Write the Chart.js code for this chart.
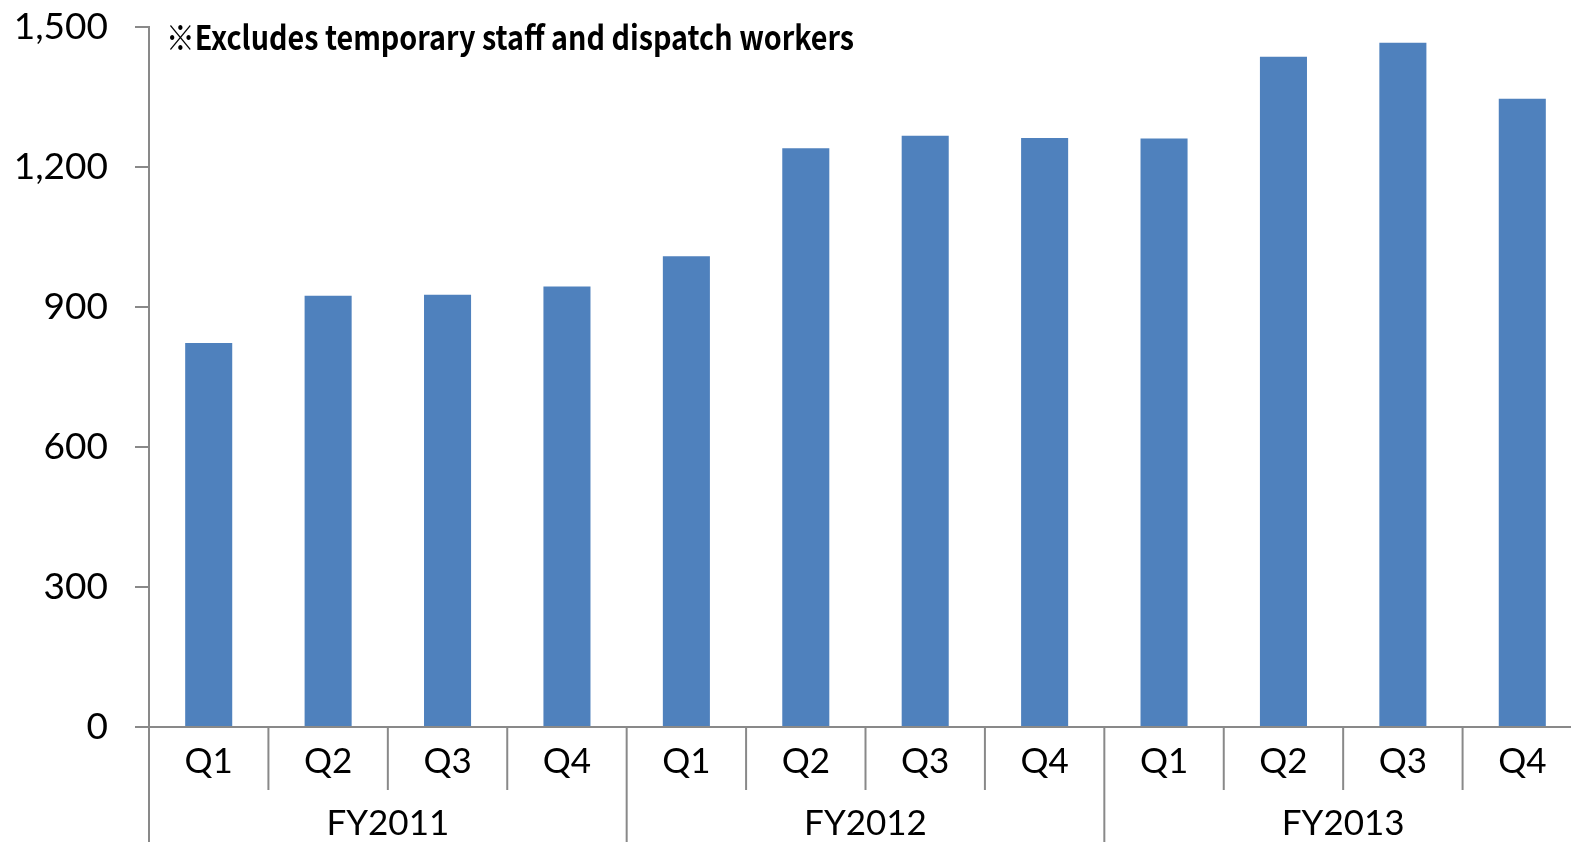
<!DOCTYPE html>
<html>
<head>
<meta charset="utf-8">
<script src="https://cdn.jsdelivr.net/npm/chart.js@4/dist/chart.umd.min.js"></script>
<style>
  html, body { margin: 0; padding: 0; overflow: hidden; background: #fff; }
  #wrap { width: 1582px; height: 842px; }
</style>
</head>
<body>
<div id="wrap"><canvas id="c" width="1582" height="842"></canvas></div>
<script>
// headcount by quarter
var quarters = ["Q1", "Q2", "Q3", "Q4", "Q1", "Q2", "Q3", "Q4", "Q1", "Q2", "Q3", "Q4"];
var years = ["FY2011", "FY2012", "FY2013"];
var staff = [823, 924, 926, 944, 1009, 1240, 1267, 1262, 1261, 1436, 1466, 1346];
var yTicks = [0, 300, 600, 900, 1200, 1500];
var note = "※Excludes temporary staff and dispatch workers";

var axisGray = "#898989";
var labelFont = "Lato, 'Liberation Sans', sans-serif";

// draws the year row, category separators and the note
var groupAxis = {
  id: "groupAxis",
  afterDraw: function (chart) {
    var ctx = chart.ctx;
    var x = chart.scales.x;
    var bottom = chart.chartArea.bottom;
    var step = x.getPixelForValue(1) - x.getPixelForValue(0);
    ctx.save();
    ctx.strokeStyle = axisGray;
    ctx.lineWidth = 2;
    for (var i = 0; i <= quarters.length; i++) {
      var bx = x.getPixelForValue(i) - step / 2;
      var yEnd = i % 4 == 0 ? chart.height : bottom + 63;
      ctx.beginPath();
      ctx.moveTo(bx, bottom);
      ctx.lineTo(bx, yEnd);
      ctx.stroke();
    }
    ctx.fillStyle = "#000";
    ctx.font = "35px " + labelFont;
    ctx.textAlign = "center";
    ctx.textBaseline = "middle";
    for (var j = 0; j < years.length; j++) {
      var cx = (x.getPixelForValue(j * 4) + x.getPixelForValue(j * 4 + 3)) / 2;
      ctx.fillText(years[j], cx, bottom + 97);
    }
    // condensed bold note
    ctx.font = "bold 33px 'Noto Sans CJK JP', 'DejaVu Sans', sans-serif";
    ctx.textAlign = "left";
    ctx.textBaseline = "alphabetic";
    var w = ctx.measureText(note).width;
    var target = 688;
    ctx.translate(166, 50);
    ctx.scale(target / w, 1);
    ctx.fillText(note, 0, 0);
    ctx.restore();
  }
};

var ctx = document.getElementById("c").getContext("2d");
var chart = new Chart(ctx, {
  type: "bar",
  data: {
    labels: quarters,
    datasets: [
      {
        data: staff,
        backgroundColor: "#4F81BD",
        borderWidth: 0,
        barPercentage: 0.394,
        categoryPercentage: 1.0,
      },
    ],
  },
  options: {
    responsive: false,
    animation: false,
    layout: { padding: { top: 27, left: 0, right: 0, bottom: 0 } },
    plugins: {
      legend: { display: false },
      tooltip: { enabled: false },
    },
    scales: {
      x: {
        grid: { display: false },
        border: { display: true, color: axisGray, width: 2 },
        ticks: {
          color: "#000",
          font: { family: labelFont, size: 35 },
          padding: 6,
          maxRotation: 0,
          autoSkip: false,
        },
        afterFit: function (s) {
          s.height = 115;
          s.paddingLeft = 0;
          s.paddingRight = 0;
        },
      },
      y: {
        min: 0,
        max: 1500,
        afterBuildTicks: function (s) {
          s.ticks = yTicks.map(function (v) { return { value: v }; });
        },
        grid: {
          drawOnChartArea: false,
          color: axisGray,
          lineWidth: 2,
          tickLength: 14,
        },
        border: { display: true, color: axisGray, width: 2 },
        ticks: {
          color: "#000",
          font: { family: labelFont, size: 37 },
          padding: 27,
        },
        afterFit: function (s) {
          s.width = 149;
          s.paddingTop = 0;
          s.paddingBottom = 0;
        },
      },
    },
  },
  plugins: [groupAxis],
});
</script>
</body>
</html>
